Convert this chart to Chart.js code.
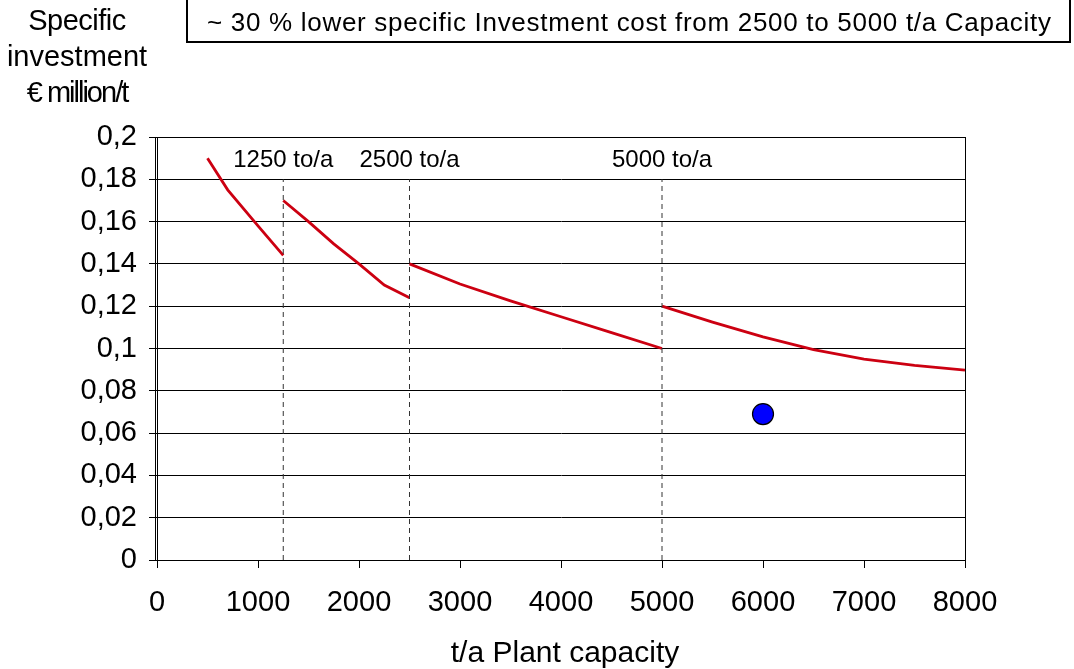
<!DOCTYPE html>
<html>
<head>
<meta charset="utf-8">
<script src="https://cdn.jsdelivr.net/npm/chart.js@4/dist/chart.umd.min.js"></script>
<style>
  html, body { margin: 0; padding: 0; background: #fff; }
  #wrap { width: 1074px; height: 669px; }
</style>
</head>
<body>
<div id="wrap"><canvas id="c" width="1074" height="669"></canvas></div>
<script>
// ---- data ----
const seg1X = [500, 700, 1000, 1250];
const seg1Y = [0.19, 0.175, 0.158, 0.144];
const seg2X = [1250, 1500, 1750, 2000, 2250, 2500];
const seg2Y = [0.17, 0.16, 0.1495, 0.14, 0.13, 0.124];
const seg3X = [2500, 3000, 3500, 4000, 4500, 5000];
const seg3Y = [0.14, 0.1305, 0.1225, 0.115, 0.1075, 0.1];
const seg4X = [5000, 5500, 6000, 6500, 7000, 7500, 8000];
const seg4Y = [0.12, 0.1125, 0.1055, 0.0995, 0.095, 0.092, 0.0898];
const pointX = [6000];
const pointY = [0.069];
const capacityMarks = [1250, 2500, 5000];
const capacityLabels = ['1250 to/a', '2500 to/a', '5000 to/a'];
const markTop = 0.18;
const markLabelY = 0.19;
const xTicks = [0, 1000, 2000, 3000, 4000, 5000, 6000, 7000, 8000];
const yTitle = ['Specific', 'investment', '€ million/t'];
const xTitle = 't/a Plant capacity';
const noteText = '~ 30 % lower specific Investment cost from 2500 to 5000 t/a Capacity';

const FONT = '"Liberation Sans", Arial, sans-serif';
const RED = '#cc0011';

function pts(xs, ys) { return xs.map((x, i) => ({ x: x, y: ys[i] })); }

const lineDs = (xs, ys) => ({
  type: 'scatter', data: pts(xs, ys), showLine: true, borderColor: RED,
  borderWidth: 2.8, pointRadius: 0, fill: false, tension: 0
});

const datasets = [];
capacityMarks.forEach(m => {
  datasets.push({
    type: 'scatter', data: [{ x: m, y: 0 }, { x: m, y: markTop }], showLine: true,
    borderColor: '#333', borderWidth: 1, borderDash: [5, 4], pointRadius: 0
  });
});
datasets.push(lineDs(seg1X, seg1Y));
datasets.push(lineDs(seg2X, seg2Y));
datasets.push(lineDs(seg3X, seg3Y));
datasets.push(lineDs(seg4X, seg4Y));
datasets.push({
  type: 'scatter', data: pts(pointX, pointY), pointRadius: 10.5,
  pointBackgroundColor: '#0000ff', pointBorderColor: '#000', pointBorderWidth: 1.2
});

const titleSpacing = ['-0.5px', '0px', '-2px'];

const decor = {
  id: 'decor',
  afterDraw(chart) {
    const ctx = chart.ctx, a = chart.chartArea;
    const xs = chart.scales.x, ys = chart.scales.y;
    ctx.save();
    // plot border
    ctx.strokeStyle = '#000'; ctx.lineWidth = 1;
    ctx.strokeRect(a.left + 0.5, a.top + 0.5, a.right - a.left, a.bottom - a.top);
    ctx.beginPath(); ctx.moveTo(a.left - 1.5, a.top); ctx.lineTo(a.left - 1.5, a.bottom); ctx.stroke();
    // capacity labels
    ctx.fillStyle = '#000';
    ctx.font = '24px ' + FONT;
    ctx.textAlign = 'center'; ctx.textBaseline = 'middle';
    capacityMarks.forEach((m, i) => {
      ctx.fillText(capacityLabels[i], xs.getPixelForValue(m), ys.getPixelForValue(markLabelY) + 2);
    });
    // y title
    ctx.font = '29px ' + FONT;
    yTitle.forEach((t, i) => {
      try { ctx.letterSpacing = titleSpacing[i]; } catch (e) {}
      ctx.fillText(t, 77, 22 + i * 36);
    });
    try { ctx.letterSpacing = '0px'; } catch (e) {}
    // x title
    ctx.font = '30px ' + FONT;
    ctx.fillText(xTitle, 565, 654);
    // note box
    ctx.lineWidth = 2;
    ctx.strokeRect(187, -5, 883, 47);
    ctx.font = '26px ' + FONT;
    try { ctx.letterSpacing = '0.7px'; } catch (e) {}
    ctx.textAlign = 'left';
    ctx.fillText(noteText, 207, 24);
    try { ctx.letterSpacing = '0px'; } catch (e) {}
    ctx.restore();
  }
};

new Chart(document.getElementById('c'), {
  type: 'scatter',
  data: { datasets: datasets },
  options: {
    responsive: false, animation: false, devicePixelRatio: 1,
    layout: { padding: { left: 0, top: 137, right: 109, bottom: 0 } },
    plugins: { legend: { display: false }, tooltip: { enabled: false } },
    scales: {
      x: {
        type: 'linear', min: 0, max: 8000,
        afterBuildTicks: s => { s.ticks = xTicks.map(v => ({ value: v })); },
        afterFit: s => { s.height = 109; },
        ticks: { callback: v => String(v), color: '#000', font: { family: FONT, size: 29 }, padding: 18, maxRotation: 0 },
        grid: { drawOnChartArea: false, drawTicks: true, tickLength: 8, color: '#000', tickColor: '#000' },
        border: { color: '#000', width: 1 }
      },
      y: {
        type: 'linear', min: 0, max: 0.2,
        ticks: { stepSize: 0.02, callback: v => String(Math.round(v * 100) / 100).replace('.', ','), color: '#000', font: { family: FONT, size: 29 }, padding: 12 },
        afterFit: s => { s.width = 157; },
        grid: { color: '#000', lineWidth: 1, tickLength: 8, tickColor: '#000' },
        border: { color: '#000', width: 1 }
      }
    }
  },
  plugins: [decor]
});
</script>
</body>
</html>
